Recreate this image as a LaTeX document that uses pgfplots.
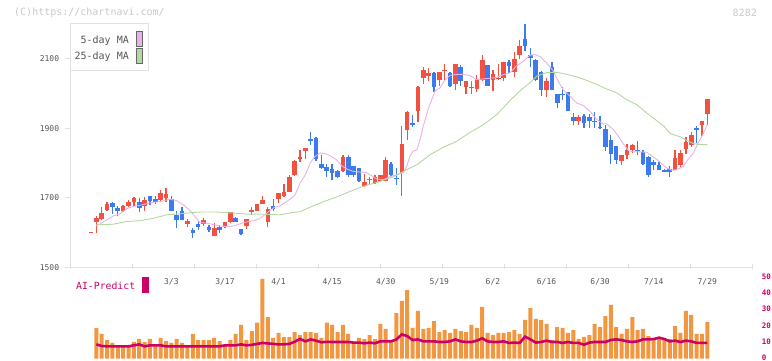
\documentclass[border=0pt]{standalone}
\usepackage{fontspec}
\setmonofont{DejaVu Sans Mono}
\usepackage{pgfplots}
\usepackage{pgfplotstable}
\pgfplotsset{compat=1.18}
\definecolor{cRed}{RGB}{242,80,64}
\definecolor{cBlue}{RGB}{60,122,240}
\definecolor{maPink}{RGB}{232,178,232}
\definecolor{maGreen}{RGB}{178,216,160}
\definecolor{volOrange}{RGB}{242,150,64}
\definecolor{aiMag}{RGB}{204,0,102}
\definecolor{axGray}{RGB}{224,224,224}
\definecolor{lblGray}{RGB}{85,85,85}
\definecolor{wmGray}{RGB}{200,200,200}

\pgfplotstableread{
i o h l c
0 1599 1602 1599 1602
1 1629 1648 1600 1641
2 1639 1673 1636 1656
3 1665 1688 1663 1683
6 1661 1680 1659 1677
7 1677 1693 1673 1688
8 1687 1702 1675 1700
10 1677 1702 1663 1694
13 1694 1721 1688 1713
14 1700 1729 1688 1711
18 1625 1640 1615 1634
21 1624 1642 1619 1637
23 1590 1627 1590 1613
25 1617 1631 1612 1631
26 1629 1660 1627 1660
29 1619 1639 1610 1639
30 1660 1673 1651 1665
31 1663 1683 1661 1683
32 1683 1706 1681 1694
33 1629 1673 1617 1668
35 1697 1715 1685 1715
36 1704 1740 1702 1718
37 1718 1766 1716 1759
38 1766 1808 1763 1807
39 1812 1838 1802 1816
40 1836 1844 1812 1844
47 1776 1824 1773 1817
51 1733 1769 1730 1746
52 1750 1761 1737 1755
53 1742 1765 1740 1760
54 1749 1766 1747 1766
55 1747 1818 1747 1809
58 1771 1906 1706 1856
59 1894 1951 1867 1946
61 1949 2023 1917 2018
62 2044 2076 2028 2067
63 2050 2072 2035 2060
65 2040 2063 2021 2063
66 2064 2084 2040 2069
68 2026 2086 2010 2084
70 2020 2035 2000 2035
71 2015 2035 2000 2018
72 2014 2052 2004 2043
73 2038 2112 2035 2095
75 2038 2067 2006 2055
76 2043 2086 2038 2046
77 2046 2092 2035 2092
79 2061 2119 2047 2098
80 2110 2153 2098 2138
85 2010 2045 1990 2035
91 1920 1939 1910 1932
99 1805 1824 1795 1824
100 1824 1856 1812 1838
101 1838 1856 1829 1853
109 1781 1838 1781 1815
110 1795 1838 1788 1830
111 1841 1876 1827 1861
112 1853 1890 1846 1882
114 1908 1922 1877 1922
115 1942 1983 1910 1983
}\upcandles

\pgfplotstableread{
i o h l c
4 1685 1688 1654 1673
5 1671 1677 1648 1663
9 1688 1700 1658 1672
11 1706 1706 1679 1692
12 1697 1706 1683 1688
15 1697 1706 1661 1661
16 1651 1661 1613 1635
17 1663 1673 1635 1637
19 1608 1613 1585 1600
20 1625 1632 1606 1617
22 1617 1621 1602 1608
24 1617 1622 1600 1608
27 1642 1644 1629 1631
28 1611 1611 1592 1596
34 1677 1697 1663 1669
41 1870 1890 1851 1862
42 1871 1874 1805 1812
43 1798 1822 1784 1786
44 1789 1798 1761 1776
45 1784 1798 1752 1771
46 1778 1781 1756 1759
48 1818 1824 1761 1766
49 1792 1792 1761 1766
50 1787 1787 1746 1749
56 1798 1802 1764 1766
57 1757 1786 1737 1754
60 1915 1939 1904 1908
64 2060 2063 2003 2018
67 2060 2063 2020 2023
69 2075 2081 2021 2035
74 2081 2081 2023 2023
78 2090 2096 2058 2079
81 2156 2202 2122 2136
82 2112 2132 2076 2102
83 2096 2098 2035 2038
84 2061 2065 1994 2010
86 2075 2090 2010 2011
87 2000 2000 1958 1973
88 2000 2019 1981 1996
89 2003 2005 1949 1949
90 1932 1945 1908 1920
92 1935 1942 1901 1915
93 1932 1942 1901 1920
94 1922 1948 1901 1917
95 1905 1936 1899 1901
96 1899 1908 1836 1845
97 1867 1882 1798 1827
98 1850 1850 1798 1808
102 1838 1864 1824 1835
103 1833 1838 1795 1798
104 1818 1821 1761 1766
105 1802 1810 1781 1795
106 1795 1802 1779 1779
107 1781 1783 1773 1773
108 1784 1792 1759 1773
113 1900 1906 1858 1896
}\downcandles

\pgfplotstableread{
i m
1 1619
2.9 1636
4.2 1648
5.4 1654
6.7 1669
7.9 1675
9.1 1678
10.4 1683
11.6 1687
12.9 1689
14.7 1696
16 1692
17.2 1680
18.5 1663
19.4 1646
20.3 1629
21.6 1627
22.8 1623
24.1 1619
25.3 1617
26.6 1619
27.8 1625
29.1 1631
30.3 1634
31.5 1640
33.4 1663
34.3 1673
35.3 1677
36.5 1689
37.4 1699
38.1 1709
39.0 1742
40.0 1766
40.9 1800
41.8 1819
42.8 1829
43.7 1827
44.6 1821
45.8 1810
46.8 1792
47.7 1783
48.9 1776
50.2 1774
51.4 1773
52.4 1763
53.3 1754
54.6 1752
55.8 1761
57.0 1766
58.3 1773
58.9 1790
59.5 1819
60.1 1834
60.8 1838
61.4 1867
62.0 1906
62.9 1954
63.6 1983
64.2 2007
65.1 2016
66.1 2040
67.0 2052
68.2 2055
69.5 2055
70.7 2052
71.9 2040
73.2 2042
74.4 2044
75.7 2046
76.9 2054
78.2 2060
79.4 2079
80.7 2093
81.9 2110
82.9 2112
83.8 2106
85.0 2088
86.3 2064
87.2 2035
88.1 2011
89.4 1992
90.6 1973
91.9 1965
93.1 1949
94.4 1925
95.6 1912
96.2 1913
97.5 1896
98.4 1877
99.3 1856
100.3 1836
101.2 1832
102.5 1832
103.7 1831
104.6 1821
105.6 1810
106.5 1798
107.4 1786
108.4 1779
109.3 1781
110.5 1790
111.4 1810
112.4 1829
113.3 1858
114.3 1886
115.0 1911
}\maFive

\pgfplotstableread{
i m
1 1622
4.2 1624
6.7 1632
9.1 1634
11.6 1641
14.1 1651
16 1653
17.9 1656
20.3 1659
23.4 1659
26.6 1656
29.1 1653
31.5 1653
35.3 1651
37.8 1658
39.0 1660
40.9 1673
43.4 1689
45.8 1702
48.3 1718
50.8 1733
53.3 1744
56.4 1760
58.9 1781
60.8 1795
63.3 1824
65.8 1846
68.2 1862
70.7 1888
73.2 1910
75.7 1939
78.2 1980
80.0 2007
81.9 2031
83.2 2050
85.0 2060
86.9 2061
88.8 2055
90.6 2048
92.5 2038
94.4 2026
96.2 2013
98.1 2002
99.9 1983
101.8 1968
103.7 1944
105.3 1925
106.9 1906
108.1 1885
110.0 1875
111.2 1865
112.4 1856
113.7 1853
115.0 1853
}\maTwentyFive

\pgfplotstableread{
i v
1 19.1
2 15.4
3 11.6
4 9.8
5 7.9
6 7.9
7 7.9
8 10.4
9 12.3
10 10.4
11 12.3
12 9.1
13 12.9
14 11.0
15 9.8
16 12.3
17 9.8
18 7.9
19 15.4
20 11.6
21 11.6
22 11.6
23 12.9
24 11.0
25 7.9
26 11.6
27 15.4
28 21.0
29 11.6
30 17.2
31 22.4
32 49.6
33 25.9
34 12.9
35 16.0
36 13.5
37 13.5
38 16.6
39 14.7
40 16.6
41 16.6
42 16.0
43 12.9
44 22.4
45 21.0
46 16.6
47 21.0
48 15.4
49 10.4
50 12.9
51 12.2
52 14.7
53 12.2
54 21.6
55 18.5
56 10.4
57 28.4
58 35.9
59 42.7
60 19.1
61 29.7
62 18.5
63 19.1
64 23.4
65 16.6
66 17.8
67 16.0
68 18.5
69 17.2
70 16.6
71 21.0
72 19.1
73 32.2
74 16.0
75 14.7
76 16.0
77 16.0
78 16.6
79 17.8
80 15.4
81 24.1
82 31.5
83 24.7
84 24.1
85 21.6
86 11.6
87 19.7
88 19.1
89 16.0
90 17.8
91 12.2
92 13.5
93 14.7
94 21.6
95 19.7
96 26.5
97 33.4
98 19.7
99 15.4
100 18.5
101 25.9
102 17.8
103 18.5
104 14.1
105 12.2
106 12.9
107 11.6
108 12.2
109 20.3
110 16.0
111 29.7
112 27.2
113 15.4
114 15.4
115 22.8
}\vol

\pgfplotstableread{
i p
1 8.9
2 7.9
3 7.7
4 7.7
5 7.7
6 7.7
7 7.7
8 8.3
9 8.9
10 7.7
11 8.3
12 8.3
13 8.3
14 7.7
15 7.7
16 7.7
17 7.7
18 7.7
19 7.7
20 7.7
21 7.7
22 7.7
23 7.7
24 7.7
25 8.3
26 8.3
27 8.3
28 8.9
29 8.3
30 8.6
31 9.2
32 9.8
33 9.5
34 9.2
35 8.9
36 8.9
37 9.2
38 10.5
39 12.3
40 10.8
41 12.0
42 11.2
43 10.2
44 10.5
45 10.4
46 10.4
47 10.4
48 10.4
49 10.0
50 10.0
51 9.6
52 10.0
53 9.6
54 10.8
55 10.8
56 10.8
57 12.0
58 15.1
59 14.1
60 11.6
61 12.0
62 10.8
63 10.8
64 10.8
65 10.4
66 10.4
67 10.8
68 12.0
69 10.8
70 10.4
71 10.4
72 11.2
73 12.7
74 10.8
75 10.4
76 10.4
77 10.8
78 9.8
79 10.0
80 9.8
81 13.7
82 12.0
83 10.0
84 10.4
85 11.2
86 10.4
87 10.4
88 9.8
89 10.4
90 9.8
91 9.8
92 8.7
93 10.0
94 10.4
95 10.4
96 10.4
97 11.6
98 12.0
99 11.6
100 10.8
101 10.4
102 10.8
103 12.0
104 12.0
105 12.2
106 13.1
107 12.2
108 10.8
109 11.2
110 10.4
111 11.2
112 10.8
113 9.8
114 9.8
115 9.8
}\ai

\begin{document}
\begin{tikzpicture}[x=1pt,y=1pt]
\useasboundingbox (0,0) rectangle (772,361);
% ---------- price panel ----------
\begin{axis}[
  at={(70.3pt,93.7pt)}, anchor=south west,
  scale only axis, width=682pt, height=243.3pt,
  xmin=-3.86, xmax=123.4, ymin=1500, ymax=2200,
  axis x line*=bottom, axis y line*=left,
  axis line style={draw=axGray, line width=1.2pt, -},
  tick align=outside, major tick length=5pt,
  tick style={draw=axGray, line width=1pt},
  every x tick/.append style={yshift=3.5pt},
  xtick={-3.86,7.70,19.27,30.84,42.41,53.98,65.55,77.12,88.69,100.26,111.83,123.40},
  xticklabels={},
  extra x ticks={15,25,35,45,55,65,75,85,95,105,115},
  extra x tick labels={3/3,3/17,4/1,4/15,4/30,5/19,6/2,6/16,6/30,7/14,7/29},
  extra x tick style={major tick length=0pt, tick style={draw=none},
    xticklabel style={anchor=center, inner sep=0pt, yshift=-14.7pt}},
  ytick={1500,1700,1900,2100},
  yticklabels={1500,1700,1900,2100},
  ticklabel style={font=\ttfamily\fontsize{8}{8}\selectfont, text=lblGray},
  yticklabel style={anchor=east, inner sep=0pt, xshift=-6pt},
]
% wicks
\addplot[draw=none, mark=none, error bars/.cd, y dir=plus, y explicit, error mark=none,
  error bar style={line width=1.3pt, draw=cRed}]
  table[x=i, y=l, y error plus expr=\thisrow{h}-\thisrow{l}] {\upcandles};
\addplot[draw=none, mark=none, error bars/.cd, y dir=plus, y explicit, error mark=none,
  error bar style={line width=1.3pt, draw=cBlue}]
  table[x=i, y=l, y error plus expr=\thisrow{h}-\thisrow{l}] {\downcandles};
% bodies
\addplot[draw=none, mark=none, error bars/.cd, y dir=plus, y explicit, error mark=none,
  error bar style={line width=4.6pt, draw=cRed}]
  table[x=i, y=o, y error plus expr=\thisrow{c}-\thisrow{o}] {\upcandles};
\addplot[draw=none, mark=none, error bars/.cd, y dir=plus, y explicit, error mark=none,
  error bar style={line width=4.6pt, draw=cBlue}]
  table[x=i, y=c, y error plus expr=\thisrow{o}-\thisrow{c}] {\downcandles};
% moving averages
\addplot[maPink, line width=0.9pt, mark=none] table[x=i, y=m] {\maFive};
\addplot[maGreen, line width=0.9pt, mark=none] table[x=i, y=m] {\maTwentyFive};
\end{axis}
% ---------- volume / AI panel ----------
\begin{axis}[
  at={(70.3pt,2.3pt)}, anchor=south west,
  scale only axis, width=682pt, height=80.4pt,
  xmin=-3.86, xmax=123.4, ymin=0, ymax=50,
  axis x line=none, axis y line*=right,
  y axis line style={draw=none},
  major tick length=0pt, tick style={draw=none},
  ytick={0,10,20,30,40,50},
  yticklabels={0,10,20,30,40,50},
  yticklabel style={anchor=west, inner sep=0pt, xshift=9.4pt, yshift=1.2pt,
    font=\ttfamily\bfseries\fontsize{7.5}{7.5}\selectfont, text=aiMag},
]
\addplot[ybar, bar width=4pt, fill=volOrange, draw=none] table[x=i, y=v] {\vol};
\addplot[aiMag, line width=2.6pt, mark=none] table[x=i, y=p] {\ai};
\end{axis}
% ---------- texts and legend ----------
\node[anchor=west, inner sep=0pt, font=\ttfamily\fontsize{10}{10}\selectfont, text=wmGray] at (14,348.5) {(C)https://chartnavi.com/};
\node[anchor=east, inner sep=0pt, font=\ttfamily\fontsize{10}{10}\selectfont, text=wmGray] at (757,348.5) {8282};
\draw[draw=axGray, line width=1pt, fill=white] (70.3,337) rectangle (148,290);
\node[anchor=east, inner sep=0pt, font=\ttfamily\fontsize{10}{10}\selectfont, text=lblGray] at (129,320.2) {5-day MA};
\node[anchor=east, inner sep=0pt, font=\ttfamily\fontsize{10}{10}\selectfont, text=lblGray] at (129,303.8) {25-day MA};
\draw[draw=black!60, line width=0.8pt, fill=maPink] (136.7,314.3) rectangle (142.7,330);
\draw[draw=black!60, line width=0.8pt, fill=maGreen] (136.7,297.7) rectangle (142.7,312.7);
\node[anchor=west, inner sep=0pt, font=\ttfamily\fontsize{9.8}{10}\selectfont, text=aiMag] at (76,75) {AI-Predict};
\fill[aiMag] (142,68) rectangle (149,84);
\end{tikzpicture}
\end{document}
